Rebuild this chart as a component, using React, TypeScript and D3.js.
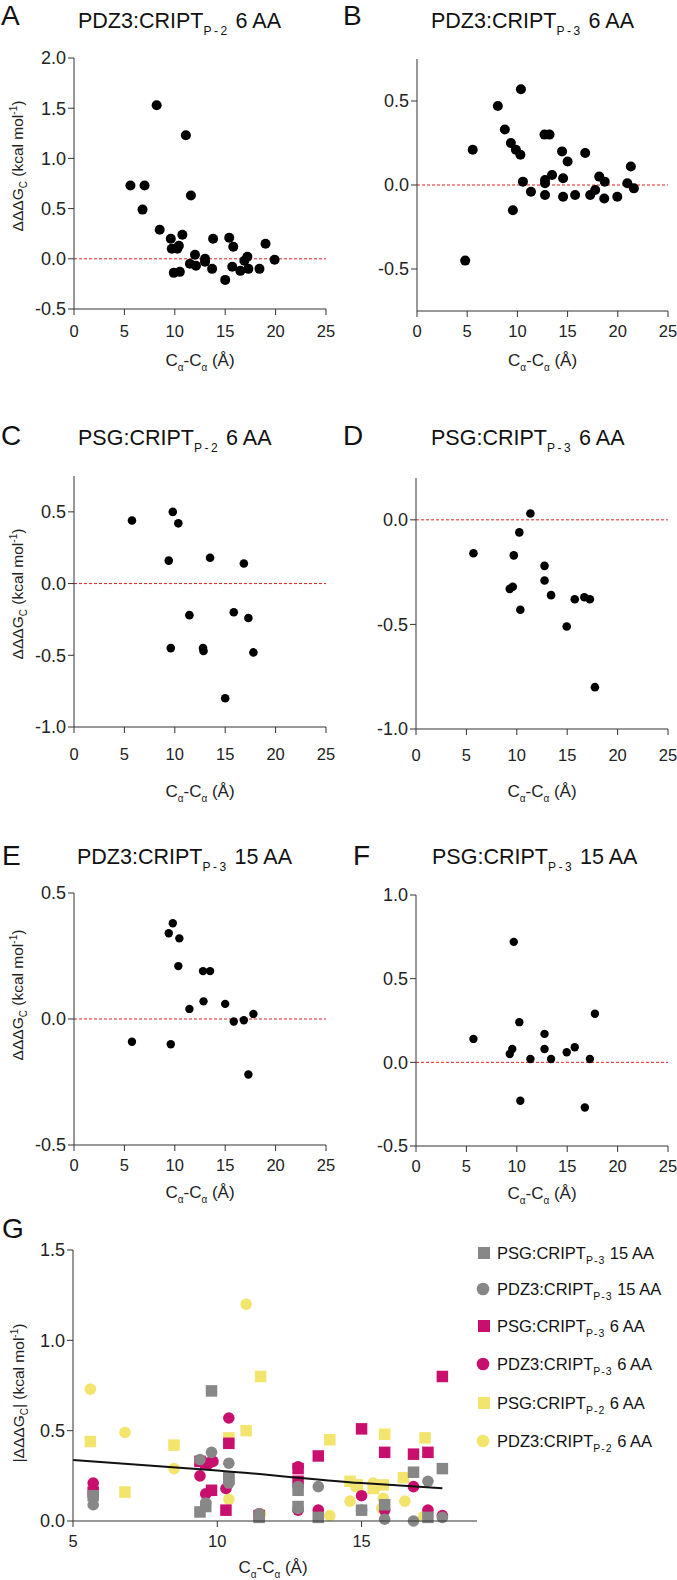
import React from 'react';
import * as d3 from 'd3';

// ---------- Panel data (Cα-Cα distance in Å, ΔΔΔGc in kcal/mol) ----------
const aX = [5.6, 7.0, 6.8, 8.2, 8.5, 9.6, 9.7, 10.25, 10.4, 10.75, 9.9, 10.5, 11.1, 11.6, 12.0, 11.5, 12.1, 13.0, 13.0, 13.8, 13.7, 15.4, 15.0, 15.8, 15.7, 16.5, 16.9, 17.2, 17.3, 18.4, 19.0, 19.9];
const aY = [0.73, 0.73, 0.49, 1.53, 0.29, 0.20, 0.10, 0.10, 0.13, 0.24, -0.14, -0.13, 1.23, 0.63, 0.04, -0.05, -0.07, 0.0, -0.03, 0.20, -0.10, 0.21, -0.21, 0.12, -0.08, -0.12, -0.02, 0.02, -0.10, -0.10, 0.15, -0.01];

const bX = [4.8, 5.55, 8.05, 8.75, 9.35, 9.85, 10.3, 9.55, 10.35, 10.55, 11.35, 12.7, 13.2, 12.75, 12.75, 12.75, 13.45, 14.45, 15.0, 14.55, 14.55, 15.75, 16.75, 17.25, 17.75, 18.15, 18.7, 18.65, 19.95, 20.95, 21.3, 21.6];
const bY = [-0.45, 0.21, 0.47, 0.33, 0.25, 0.21, 0.18, -0.15, 0.57, 0.02, -0.04, 0.30, 0.30, 0.03, 0.01, -0.06, 0.06, 0.20, 0.14, 0.04, -0.07, -0.06, 0.19, -0.06, -0.03, 0.05, 0.02, -0.08, -0.07, 0.01, 0.11, -0.02];

const cX = [5.75, 9.8, 10.35, 9.4, 13.5, 16.85, 11.45, 15.85, 17.3, 9.6, 12.8, 12.85, 17.8, 15.0];
const cY = [0.44, 0.50, 0.42, 0.16, 0.18, 0.14, -0.22, -0.20, -0.24, -0.45, -0.45, -0.47, -0.48, -0.80];

const dX = [5.7, 9.7, 11.35, 10.25, 9.3, 9.6, 10.35, 12.75, 12.75, 13.4, 14.95, 15.75, 16.7, 17.25, 17.75];
const dY = [-0.16, -0.17, 0.03, -0.06, -0.33, -0.32, -0.43, -0.22, -0.29, -0.36, -0.51, -0.38, -0.37, -0.38, -0.80];

const eX = [5.75, 9.4, 9.8, 10.45, 10.35, 9.6, 11.45, 12.8, 13.5, 12.85, 15.0, 15.85, 16.85, 17.8, 17.3];
const eY = [-0.09, 0.34, 0.38, 0.32, 0.21, -0.10, 0.04, 0.19, 0.19, 0.07, 0.06, -0.01, -0.005, 0.02, -0.22];

const fX = [5.7, 9.7, 10.25, 9.55, 9.3, 11.35, 12.75, 12.75, 13.4, 14.95, 15.75, 17.25, 17.75, 10.35, 16.75];
const fY = [0.14, 0.72, 0.24, 0.08, 0.05, 0.02, 0.17, 0.08, 0.02, 0.06, 0.09, 0.02, 0.29, -0.23, -0.27];

// ---------- Panel G data (|ΔΔΔGc|) ----------
const gSqGreyX = [5.7, 9.8, 10.4, 9.6, 9.4, 11.45, 12.8, 12.8, 13.5, 15.0, 15.8, 17.3, 17.8, 10.4, 16.8];
const gSqGreyY = [0.14, 0.72, 0.24, 0.08, 0.05, 0.02, 0.17, 0.08, 0.02, 0.06, 0.09, 0.02, 0.29, 0.23, 0.27];
const gCircGreyX = [5.7, 9.4, 9.8, 10.4, 10.4, 9.6, 11.45, 12.8, 13.5, 12.8, 15.0, 15.8, 16.8, 17.8, 17.3];
const gCircGreyY = [0.09, 0.34, 0.38, 0.32, 0.21, 0.10, 0.04, 0.19, 0.19, 0.07, 0.06, 0.01, 0.0, 0.02, 0.22];
const gSqMagX = [5.7, 9.8, 11.45, 10.3, 9.4, 9.6, 10.4, 12.8, 12.8, 13.5, 15.0, 15.8, 16.8, 17.3, 17.8];
const gSqMagY = [0.16, 0.17, 0.03, 0.06, 0.33, 0.32, 0.43, 0.22, 0.29, 0.36, 0.51, 0.38, 0.37, 0.38, 0.80];
const gCircMagX = [5.7, 9.4, 9.6, 9.7, 9.85, 10.4, 10.3, 11.45, 12.8, 12.8, 13.5, 15.0, 15.8, 16.8, 17.3, 17.8];
const gCircMagY = [0.21, 0.25, 0.15, 0.32, 0.33, 0.57, 0.18, 0.04, 0.30, 0.06, 0.06, 0.14, 0.06, 0.19, 0.06, 0.03];
const gSqYelX = [5.6, 6.8, 8.5, 10.4, 11.0, 11.5, 13.9, 14.6, 14.85, 15.4, 15.75, 15.8, 16.45, 17.2];
const gSqYelY = [0.44, 0.16, 0.42, 0.46, 0.50, 0.80, 0.45, 0.22, 0.20, 0.18, 0.20, 0.48, 0.24, 0.46];
const gCircYelX = [5.6, 6.8, 8.5, 10.4, 11.0, 11.5, 13.9, 14.6, 14.8, 15.4, 15.45, 15.7, 15.75, 16.5, 17.15];
const gCircYelY = [0.73, 0.49, 0.29, 0.12, 1.20, 0.04, 0.03, 0.11, 0.19, 0.21, 0.18, 0.07, 0.125, 0.11, 0.025];
const trendX = [5, 10, 15, 17.8];
const trendY = [0.338, 0.28, 0.21, 0.181];

const panelXTicks = [0, 5, 10, 15, 20, 25];
const gXTicks = [5, 10, 15];
const gYTicks = [0, 0.5, 1.0, 1.5];

const legendNames = ['PSG:CRIPT', 'PDZ3:CRIPT', 'PSG:CRIPT', 'PDZ3:CRIPT', 'PSG:CRIPT', 'PDZ3:CRIPT'];
const legendSubs = ['P-3', 'P-3', 'P-3', 'P-3', 'P-2', 'P-2'];
const legendSuffix = [' 15 AA', ' 15 AA', ' 6 AA', ' 6 AA', ' 6 AA', ' 6 AA'];

const FONT = "'Liberation Sans', Arial, Helvetica, sans-serif";
const GREY = '#878787';
const MAG = '#c80f6e';
const YEL = '#f3e46e';
const AXIS = '#333';
const RED = '#e02020';
const YT = 18; // y tick font
const XT = 16.5; // x tick font

type Cfg = {
  letter: string; name: string; sub: string; suffix: string;
  letterX: number; letterY: number; titleX: number; titleY: number;
  left: number; right: number; top: number; bottom: number;
  yDomain: [number, number]; yTicks: number[];
  xs: number[]; ys: number[]; r: number;
  yLabel?: { x: number; y: number };
  xTickDy: number; xTitleDy: number;
};

const fmt = (v: number) => (Math.abs(v) < 1e-9 ? '0.0' : v.toFixed(1));

function YLabel({ x, y, abs }: { x: number; y: number; abs?: boolean }) {
  return (
    <text transform={`translate(${x},${y}) rotate(-90)`} textAnchor="middle" fontSize={15.5} fill="#222">
      {abs ? '|ΔΔΔG' : 'ΔΔΔG'}
      <tspan fontSize={10} dy={4}>C</tspan>
      <tspan dy={-4}>{abs ? '| (kcal mol' : ' (kcal mol'}</tspan>
      <tspan fontSize={10} dy={-6}>-1</tspan>
      <tspan dy={6}>)</tspan>
    </text>
  );
}

function XTitle({ x, y }: { x: number; y: number }) {
  return (
    <text x={x} y={y} textAnchor="middle" fontSize={17} fill="#222" dy="0.35em">
      C<tspan fontSize={10} dy={5}>α</tspan>
      <tspan dy={-5}>-C</tspan>
      <tspan fontSize={10} dy={5}>α</tspan>
      <tspan dy={-5}> (Å)</tspan>
    </text>
  );
}

function Panel({ c }: { c: Cfg }) {
  const x = d3.scaleLinear().domain([0, 25]).range([c.left, c.right]);
  const y = d3.scaleLinear().domain(c.yDomain).range([c.bottom, c.top]);
  const pts = c.xs.map((v, i) => [v, c.ys[i]] as [number, number]);
  return (
    <g>
      <text x={c.letterX} y={c.letterY} fontSize={28} fill="#111">{c.letter}</text>
      <text x={c.titleX} y={c.titleY} fontSize={21.5} fill="#111">
        {c.name}
        <tspan fontSize={12} dy={7} letterSpacing={2.5}>{c.sub}</tspan>
        <tspan dy={-7}>{c.suffix}</tspan>
      </text>
      <line x1={x(0)} x2={x(25)} y1={y(0)} y2={y(0)} stroke={RED} strokeWidth={1} strokeDasharray="3,2" />
      <line x1={c.left} x2={c.left} y1={c.top} y2={c.bottom} stroke={AXIS} strokeWidth={1} />
      <line x1={c.left} x2={c.right} y1={c.bottom} y2={c.bottom} stroke={AXIS} strokeWidth={1} />
      {c.yTicks.map((t) => (
        <g key={'y' + t}>
          <line x1={c.left - 6} x2={c.left} y1={y(t)} y2={y(t)} stroke={AXIS} strokeWidth={1} />
          <text x={c.left - 8} y={y(t)} dy="0.35em" textAnchor="end" fontSize={YT} fill="#222">{fmt(t)}</text>
        </g>
      ))}
      {panelXTicks.map((t) => (
        <g key={'x' + t}>
          <line x1={x(t)} x2={x(t)} y1={c.bottom} y2={c.bottom + 6} stroke={AXIS} strokeWidth={1} />
          <text x={x(t)} y={c.bottom + c.xTickDy} dy="0.35em" textAnchor="middle" fontSize={XT} fill="#222">{t}</text>
        </g>
      ))}
      {pts.map((p, i) => (
        <circle key={i} cx={x(p[0])} cy={y(p[1])} r={c.r} fill="#000" />
      ))}
      <XTitle x={(c.left + c.right) / 2} y={c.bottom + c.xTitleDy} />
      {c.yLabel && <YLabel x={c.yLabel.x} y={c.yLabel.y} />}
    </g>
  );
}

function PanelG() {
  const left = 73, right = 477, top = 1250, bottom = 1521;
  const x = d3.scaleLinear().domain([5, 19]).range([left, right]);
  const y = d3.scaleLinear().domain([0, 1.5]).range([bottom, top]);
  const S = 11.5, R = 5.8;
  const sq = (xs: number[], ys: number[], col: string, k: string) =>
    xs.map((v, i) => (
      <rect key={k + i} x={x(v) - S / 2} y={y(ys[i]) - S / 2} width={S} height={S} fill={col} />
    ));
  const ci = (xs: number[], ys: number[], col: string, k: string) =>
    xs.map((v, i) => <circle key={k + i} cx={x(v)} cy={y(ys[i])} r={R} fill={col} />);
  const line = d3
    .line<number>()
    .x((d) => x(d))
    .y((_, i) => y(trendY[i]))
    .curve(d3.curveMonotoneX);
  const legendY = [1253, 1289, 1326, 1364, 1403, 1441];
  const legendShape = ['sq', 'ci', 'sq', 'ci', 'sq', 'ci'];
  const legendCol = [GREY, GREY, MAG, MAG, YEL, YEL];
  return (
    <g>
      <text x={2} y={1238} fontSize={28} fill="#111">G</text>
      {ci(gCircYelX, gCircYelY, YEL, 'cy')}
      {sq(gSqYelX, gSqYelY, YEL, 'sy')}
      {ci(gCircMagX, gCircMagY, MAG, 'cm')}
      {sq(gSqMagX, gSqMagY, MAG, 'sm')}
      {ci(gCircGreyX, gCircGreyY, GREY, 'cg')}
      {sq(gSqGreyX, gSqGreyY, GREY, 'sg')}
      <path d={line(trendX) || ''} fill="none" stroke="#111" strokeWidth={2} />
      <line x1={left} x2={left} y1={top} y2={bottom} stroke={AXIS} strokeWidth={1} />
      <line x1={left} x2={right} y1={bottom} y2={bottom} stroke={AXIS} strokeWidth={1} />
      {gYTicks.map((t) => (
        <g key={'gy' + t}>
          <line x1={left - 6} x2={left} y1={y(t)} y2={y(t)} stroke={AXIS} strokeWidth={1} />
          <text x={left - 8} y={y(t)} dy="0.35em" textAnchor="end" fontSize={YT} fill="#222">{fmt(t)}</text>
        </g>
      ))}
      {gXTicks.map((t) => (
        <g key={'gx' + t}>
          <line x1={x(t)} x2={x(t)} y1={bottom} y2={bottom + 6} stroke={AXIS} strokeWidth={1} />
          <text x={x(t)} y={bottom + 20} dy="0.35em" textAnchor="middle" fontSize={XT} fill="#222">{t}</text>
        </g>
      ))}
      <XTitle x={(left + right) / 2 - 2} y={bottom + 46} />
      <YLabel x={24} y={1393} abs />
      {legendNames.map((n, i) => (
        <g key={'lg' + i}>
          {legendShape[i] === 'sq' ? (
            <rect x={484 - 6} y={legendY[i] - 6} width={12} height={12} fill={legendCol[i]} />
          ) : (
            <circle cx={483} cy={legendY[i]} r={6.3} fill={legendCol[i]} />
          )}
          <text x={497} y={legendY[i] + 6} fontSize={16.5} fill="#111">
            {n}
            <tspan fontSize={10.5} dy={5} letterSpacing={1}>{legendSubs[i]}</tspan>
            <tspan dy={-5}>{legendSuffix[i]}</tspan>
          </text>
        </g>
      ))}
    </g>
  );
}

const panels: Cfg[] = [
  { letter: 'A', name: 'PDZ3:CRIPT', sub: 'P-2', suffix: ' 6 AA', letterX: 1, letterY: 25, titleX: 78, titleY: 28,
    left: 74, right: 326, top: 58, bottom: 309, yDomain: [-0.5, 2.0], yTicks: [-0.5, 0, 0.5, 1.0, 1.5, 2.0],
    xs: aX, ys: aY, r: 5, yLabel: { x: 23, y: 166 }, xTickDy: 22, xTitleDy: 51 },
  { letter: 'B', name: 'PDZ3:CRIPT', sub: 'P-3', suffix: ' 6 AA', letterX: 343, letterY: 25, titleX: 431, titleY: 28,
    left: 417, right: 668, top: 59, bottom: 311, yDomain: [-0.75, 0.75], yTicks: [-0.5, 0, 0.5],
    xs: bX, ys: bY, r: 5, xTickDy: 20, xTitleDy: 49 },
  { letter: 'C', name: 'PSG:CRIPT', sub: 'P-2', suffix: ' 6 AA', letterX: 1, letterY: 445, titleX: 78, titleY: 445,
    left: 74, right: 326, top: 476, bottom: 727, yDomain: [-1.0, 0.75], yTicks: [-1.0, -0.5, 0, 0.5],
    xs: cX, ys: cY, r: 4.3, yLabel: { x: 23, y: 594 }, xTickDy: 27, xTitleDy: 64 },
  { letter: 'D', name: 'PSG:CRIPT', sub: 'P-3', suffix: ' 6 AA', letterX: 343, letterY: 445, titleX: 431, titleY: 445,
    left: 416, right: 668, top: 478, bottom: 729, yDomain: [-1.0, 0.2], yTicks: [-1.0, -0.5, 0],
    xs: dX, ys: dY, r: 4.3, xTickDy: 26, xTitleDy: 62 },
  { letter: 'E', name: 'PDZ3:CRIPT', sub: 'P-3', suffix: ' 15 AA', letterX: 2, letterY: 865, titleX: 77, titleY: 864,
    left: 74, right: 326, top: 893, bottom: 1145, yDomain: [-0.5, 0.5], yTicks: [-0.5, 0, 0.5],
    xs: eX, ys: eY, r: 4.2, yLabel: { x: 23, y: 995 }, xTickDy: 20, xTitleDy: 47 },
  { letter: 'F', name: 'PSG:CRIPT', sub: 'P-3', suffix: ' 15 AA', letterX: 353, letterY: 865, titleX: 432, titleY: 864,
    left: 416, right: 668, top: 895, bottom: 1146, yDomain: [-0.5, 1.0], yTicks: [-0.5, 0, 0.5, 1.0],
    xs: fX, ys: fY, r: 4.2, xTickDy: 20, xTitleDy: 47 },
];

export default function App() {
  return (
    <svg
      width={677}
      height={1580}
      style={{ position: 'absolute', left: 0, top: 0, background: '#fff' }}
      fontFamily={FONT}
    >
      <rect width={677} height={1580} fill="#fff" />
      {panels.map((c) => (
        <Panel key={c.letter} c={c} />
      ))}
      <PanelG />
    </svg>
  );
}
